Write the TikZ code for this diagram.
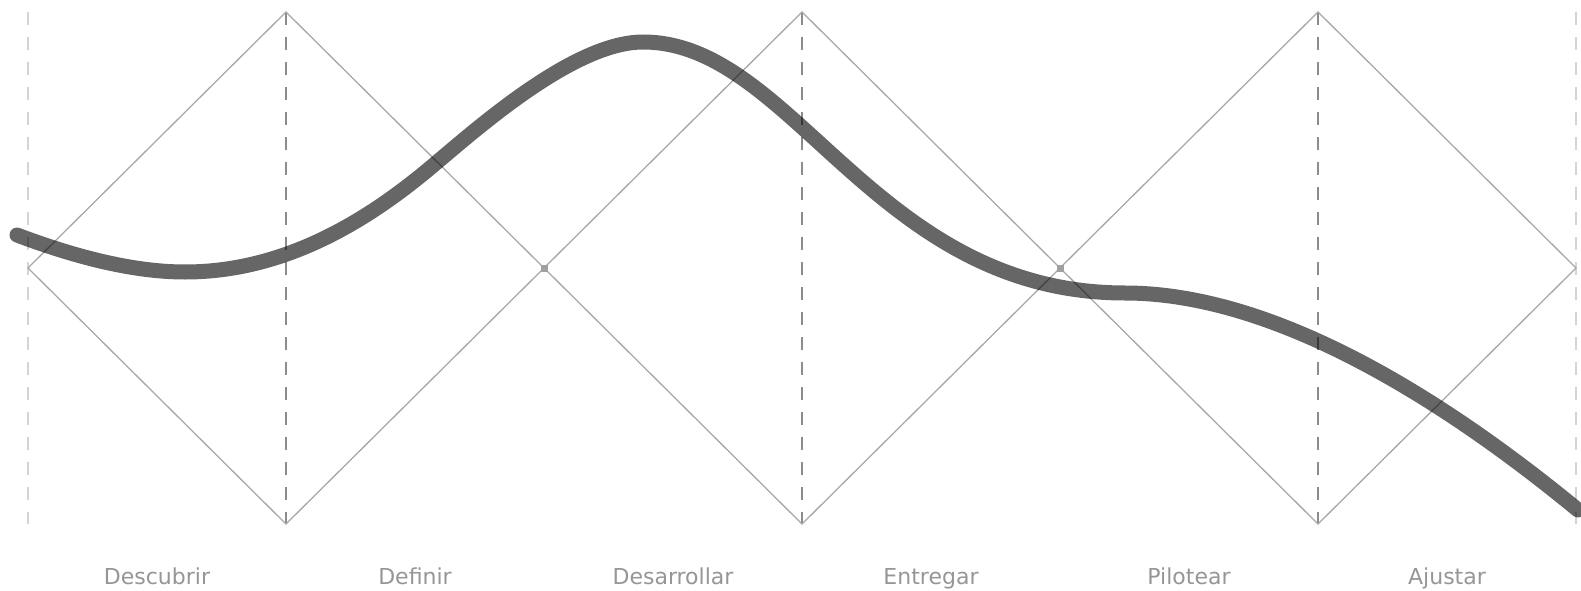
\documentclass[tikz,border=0pt]{standalone}
\usepackage{fontspec}
\usetikzlibrary{calc}
\newfontfamily\phasefont{DejaVu Sans}
\definecolor{linegray}{RGB}{168,168,168}
\definecolor{guidegray}{RGB}{140,140,140}
\definecolor{edgegray}{RGB}{212,212,212}
\definecolor{dotgray}{RGB}{160,160,160}
\definecolor{textgray}{RGB}{150,150,150}

\begin{document}
\begin{tikzpicture}[x=1pt,y=-1pt,
  diamondline/.style={linegray,line width=1.3pt},
  guide/.style={guidegray,line width=1.3pt,dash pattern=on 13pt off 12pt},
  edgeguide/.style={edgegray,line width=1.3pt,dash pattern=on 13pt off 12pt},
  jointdot/.style={fill=dotgray,inner sep=0pt,minimum size=7pt},
  phase/.style={anchor=base,text=textgray,font=\phasefont\fontsize{22}{26}\selectfont},
  trend/.style={black,opacity=0.6,line width=15pt,line cap=round}]
  \useasboundingbox (0,0) rectangle (1581,591);
  % vertices of the three diamonds
  \foreach \i in {0,...,6} {
    \coordinate (v\i) at (28+258*\i,268);
    \coordinate (t\i) at (28+258*\i,12);
    \coordinate (b\i) at (28+258*\i,524);
  }
  \draw[edgeguide] (t0) -- (b0);
  \draw[edgeguide] (t6) -- (b6);
  \foreach \j in {1,3,5}
    \draw[guide] (t\j) -- (b\j);
  \foreach \k [evaluate=\k as \j using int(\k+1),
               evaluate=\k as \n using int(\k+2)] in {0,2,4}
    \draw[diamondline] (v\k) -- (t\j) -- (v\n) -- (b\j) -- cycle;
  \node[jointdot] (joint1) at (v2) {};
  \node[jointdot] (joint2) at (v4) {};
  % phase names
  \foreach \name [count=\c] in {Descubrir,Definir,Desarrollar,Entregar,Pilotear,Ajustar}
    \node[phase] (phase\c) at (28+258*\c-129,584) {\name};
  % trend curve
  \draw[trend] (17,235) .. controls (70,255) and (130,272) .. (185,272)
    .. controls (290,272) and (375,215) .. (436,163)
    .. controls (480,126) and (575,42) .. (643,42)
    .. controls (793,42) and (875,293) .. (1125,293)
    .. controls (1260,293) and (1420,380) .. (1578,510);
\end{tikzpicture}
\end{document}
